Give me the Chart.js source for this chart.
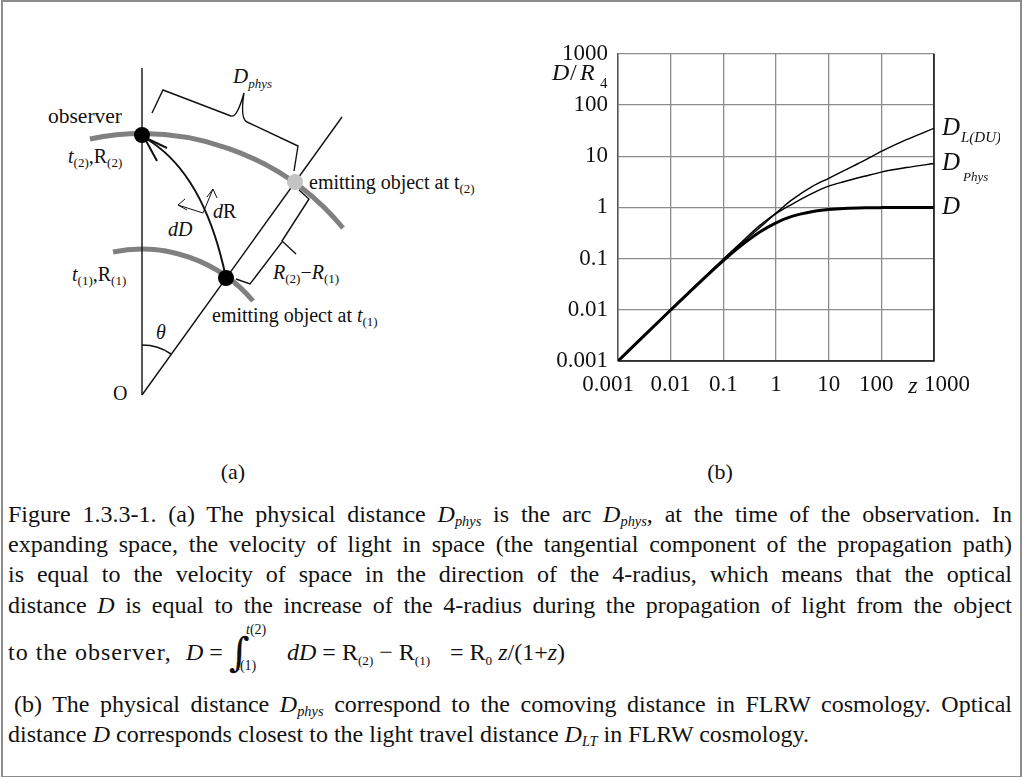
<!DOCTYPE html>
<html>
<head>
<meta charset="utf-8">
<script src="https://cdn.jsdelivr.net/npm/chart.js@4.4.1/dist/chart.umd.min.js"></script>
<style>
  body { margin: 0; background: #fff; font-family: "Liberation Serif", serif; }
  #page { position: relative; width: 1022px; height: 777px; overflow: hidden; }
  #frame { position: absolute; left: 1px; top: 0; width: 1017px; height: 774px; border: 2px solid #8c8c8c; }
  #diagram { position: absolute; left: 0; top: 0; }
  #chart { position: absolute; left: 520px; top: 30px; }
  .ln { position: absolute; left: 8px; width: 1004px; height: 30px; line-height: 30px; font-size: 24px; color: #111; white-space: nowrap; }
  .ln sub { font-size: 0.6em; vertical-align: -0.3em; line-height: 0; }
  .f { position: absolute; font-size: 24px; line-height: 30px; white-space: nowrap; color: #111; }
  .f sub { font-size: 0.55em; vertical-align: -0.35em; line-height: 0; }
  .sm { font-size: 14px; }
</style>
</head>
<body>
<div id="page">
<div id="frame"></div>

<svg id="diagram" width="1022" height="500" font-family="Liberation Serif" font-size="20" fill="#111">
  <!-- grey arcs -->
  <path d="M90,139 A261,261 0 0 1 343,228" fill="none" stroke="#808080" stroke-width="5"/>
  <path d="M113,252 A146,146 0 0 1 253,301" fill="none" stroke="#808080" stroke-width="5"/>
  <!-- radii -->
  <path d="M142,68 L142,395" stroke="#111" stroke-width="1.4" fill="none"/>
  <path d="M142,395 L342,117" stroke="#111" stroke-width="1.4" fill="none"/>
  <path d="M142,345 A50,50 0 0 1 171,354" stroke="#111" stroke-width="1.6" fill="none"/>
  <!-- light path -->
  <path d="M226,278 Q204,172 145,138" stroke="#111" stroke-width="2" fill="none"/>
  <path d="M157,161 L144,137 L167,148" stroke="#111" stroke-width="2" fill="none"/>
  <!-- dR / dD arrows -->
  <path d="M203,213 L213,189 M207,197 L213,189 L217,198" stroke="#111" stroke-width="1" fill="none"/>
  <path d="M203,213 L178,205 M185,199 L178,205 L187,210" stroke="#111" stroke-width="1" fill="none"/>
  <!-- braces -->
  <path d="M152,113 L163,90 L231,116 Q237,118 244,93 Q240,119 247,122 L298,146 L294,171" stroke="#111" stroke-width="1.4" fill="none"/>
  <path d="M299,190 L309,199 L282,241 L296,254 M282,242 L250,284 L236,279" stroke="#111" stroke-width="1.4" fill="none"/>
  <!-- points -->
  <circle cx="142" cy="135" r="8" fill="#000"/>
  <circle cx="226" cy="278" r="8" fill="#000"/>
  <circle cx="295" cy="182" r="8" fill="#c4c4c4"/>
  <!-- labels -->
  <text x="48" y="123" font-size="21.5">observer</text>
  <text x="68" y="163"><tspan font-style="italic">t</tspan><tspan font-size="13" dy="4">(2)</tspan><tspan dy="-4">,R</tspan><tspan font-size="13" dy="4">(2)</tspan></text>
  <text x="72" y="281"><tspan font-style="italic">t</tspan><tspan font-size="13" dy="4">(1)</tspan><tspan dy="-4">,R</tspan><tspan font-size="13" dy="4">(1)</tspan></text>
  <text x="113" y="400">O</text>
  <text x="156" y="339" font-style="italic">θ</text>
  <text x="213" y="218"><tspan font-style="italic">d</tspan>R</text>
  <text x="168" y="236" font-style="italic">dD</text>
  <text x="233" y="83" font-style="italic" font-size="21">D<tspan font-size="13" dy="5">phys</tspan></text>
  <text x="309" y="189">emitting object at t<tspan font-size="13" dy="4">(2)</tspan></text>
  <text x="273" y="279" font-style="italic">R<tspan font-size="13" font-style="normal" dy="4">(2)</tspan><tspan dy="-4" font-style="normal">−</tspan>R<tspan font-size="13" font-style="normal" dy="4">(1)</tspan></text>
  <text x="212" y="322">emitting object at <tspan font-style="italic">t</tspan><tspan font-size="13" dy="4">(1)</tspan></text>
  <text x="233" y="479" text-anchor="middle" font-size="22">(a)</text>
  <text x="720" y="479" text-anchor="middle" font-size="22">(b)</text>
</svg>

<canvas id="chart" width="480" height="380"></canvas>

<div class="ln j" style="top:499px"><span>Figure 1.3.3-1. (a) The physical distance <i>D<sub>phys</sub></i> is the arc <i>D<sub>phys</sub></i>, at the time of the observation. In</span></div>
<div class="ln j" style="top:529px"><span>expanding space, the velocity of light in space (the tangential component of the propagation path)</span></div>
<div class="ln j" style="top:559px"><span>is equal to the velocity of space in the direction of the 4-radius, which means that the optical</span></div>
<div class="ln j" style="top:590px"><span>distance <i>D</i> is equal to the increase of the 4-radius during the propagation of light from the object</span></div>

<div class="f" style="left:8px; top:637px; letter-spacing:1px">to the observer,</div>
<div class="f" style="left:186px; top:637px"><i>D</i> =</div>
<div class="f" style="left:229px; top:628px; font-size:40px; line-height:48px; font-family:'DejaVu Serif'">∫</div>
<div class="f sm" style="left:246px; top:615px"><i>t</i>(2)</div>
<div class="f sm" style="left:236px; top:651px"><i>t</i>(1)</div>
<div class="f" style="left:287px; top:637px"><i>dD</i> = R<sub>(2)</sub> − R<sub>(1)</sub></div>
<div class="f" style="left:450px; top:637px">= R<sub>0</sub> <i>z</i>/(1+<i>z</i>)</div>

<div class="ln j" style="top:689px; left:14px; width:998px"><span>(b) The physical distance <i>D<sub>phys</sub></i> correspond to the comoving distance in FLRW cosmology. Optical</span></div>
<div class="ln" style="top:719px">distance <i>D</i> corresponds closest to the light travel distance <i>D<sub>LT</sub></i> in FLRW cosmology.</div>
</div>

<script>
const zValues = [0.001, 0.003, 0.01, 0.03, 0.1, 0.2, 0.5, 1, 2, 5, 10, 20, 50, 100, 300, 1000];
const dOptical = [0.001, 0.003, 0.0099, 0.029, 0.091, 0.167, 0.333, 0.5, 0.667, 0.833, 0.909, 0.952, 0.98, 0.99, 0.997, 0.999];
const dPhys = [0.001, 0.003, 0.00995, 0.0296, 0.095, 0.18, 0.41, 0.75, 1.15, 1.9, 2.6, 3.2, 4.1, 4.9, 6.0, 7.2];
const dLum = [0.001, 0.003, 0.01, 0.03, 0.098, 0.19, 0.45, 0.78, 1.4, 2.6, 3.7, 5.3, 8.5, 12.4, 21, 35];

const xTicks = [0.001, 0.01, 0.1, 1, 10, 100, 1000];
const xTickLabels = ["0.001", "0.01", "0.1", "1", "10", "100", "1000"];
const yTicks = [0.001, 0.01, 0.1, 1, 10, 100, 1000];
const yTickLabels = ["0.001", "0.01", "0.1", "1", "10", "100", "1000"];

const seriesNames = ["D", "D_Phys", "D_L(DU)"];

// stretch or squeeze each caption line to the full width
document.querySelectorAll(".j").forEach((el) => {
  const span = el.firstElementChild;
  const target = el.clientWidth;
  const w = span.getBoundingClientRect().width;
  const gaps = (span.textContent.match(/ /g) || []).length;
  if (gaps) span.style.wordSpacing = (target - w) / gaps + "px";
});

Chart.defaults.font.family = "Liberation Serif";
Chart.defaults.color = "#111";

function pts(ys) {
  return zValues.map((z, i) => ({ x: z, y: ys[i] }));
}

// labels at line ends, axis title and x tick labels
const labelsPlugin = {
  id: "labels",
  afterDraw(chart) {
    const ctx = chart.ctx;
    const a = chart.chartArea;
    const xs = chart.scales.x;
    const ys = chart.scales.y;
    ctx.save();
    ctx.strokeStyle = "#111";
    ctx.lineWidth = 1.5;
    ctx.beginPath();
    ctx.moveTo(a.right, a.top);
    ctx.lineTo(a.right, a.bottom);
    ctx.lineTo(a.left, a.bottom);
    ctx.stroke();

    ctx.fillStyle = "#111";
    ctx.textBaseline = "middle";
    const lx = a.right + 8;
    const n = zValues.length - 1;
    ctx.textAlign = "left";
    ctx.font = "italic 25px Liberation Serif";
    ctx.fillText("D", lx, ys.getPixelForValue(dLum[n]));
    ctx.fillText("D", lx, ys.getPixelForValue(dPhys[n]));
    ctx.fillText("D", lx, ys.getPixelForValue(dOptical[n]));
    ctx.font = "italic 15px Liberation Serif";
    ctx.fillText("L(DU)", lx + 19, ys.getPixelForValue(dLum[n]) + 10);
    ctx.font = "italic 13px Liberation Serif";
    ctx.fillText("Phys", lx + 21, ys.getPixelForValue(dPhys[n]) + 14);

    ctx.font = "italic 24px Liberation Serif";
    ctx.fillText("D", 32, 44);
    ctx.font = "24px Liberation Serif";
    ctx.fillText("/", 50, 44);
    ctx.font = "italic 24px Liberation Serif";
    ctx.fillText("R", 60, 44);
    ctx.font = "15px Liberation Serif";
    ctx.fillText("4", 80, 54);

    const shift = [-10, 0, 0, 0, 0, -5, 13];
    ctx.font = "23px Liberation Serif";
    ctx.textAlign = "center";
    xTicks.forEach((v, i) => {
      ctx.fillText(xTickLabels[i], xs.getPixelForValue(v) + shift[i], a.bottom + 24);
    });
    ctx.font = "italic 24px Liberation Serif";
    ctx.fillText("z", 393, a.bottom + 26);
    ctx.restore();
  },
};

new Chart(document.getElementById("chart"), {
  type: "line",
  data: {
    datasets: [
      { label: seriesNames[0], data: pts(dOptical), borderColor: "#000", borderWidth: 3 },
      { label: seriesNames[1], data: pts(dPhys), borderColor: "#000", borderWidth: 1.4 },
      { label: seriesNames[2], data: pts(dLum), borderColor: "#000", borderWidth: 1.4 },
    ],
  },
  options: {
    responsive: false,
    animation: false,
    layout: { padding: { top: 14, right: 66, left: 0, bottom: 0 } },
    elements: {
      point: { radius: 0 },
      line: { cubicInterpolationMode: "monotone", fill: false },
    },
    plugins: {
      legend: { display: false },
      tooltip: { enabled: false },
    },
    scales: {
      x: {
        type: "logarithmic",
        min: 0.001,
        max: 1000,
        afterBuildTicks: (s) => { s.ticks = xTicks.map((v) => ({ value: v })); },
        afterFit: (s) => { s.height = 49; },
        ticks: { display: false },
        grid: { color: "#8c8c8c", lineWidth: 1.3, drawTicks: false },
        border: { display: false },
      },
      y: {
        type: "logarithmic",
        min: 0.001,
        max: 1000,
        afterBuildTicks: (s) => { s.ticks = yTicks.map((v) => ({ value: v })); },
        afterFit: (s) => { s.width = 98; },
        ticks: {
          padding: 10,
          font: { size: 23 },
          color: "#111",
          callback: (v) => yTickLabels[yTicks.indexOf(v)],
        },
        grid: { color: "#8c8c8c", lineWidth: 1.3, drawTicks: false },
        border: { color: "#555", width: 1.5 },
      },
    },
  },
  plugins: [labelsPlugin],
});
</script>
</body>
</html>
